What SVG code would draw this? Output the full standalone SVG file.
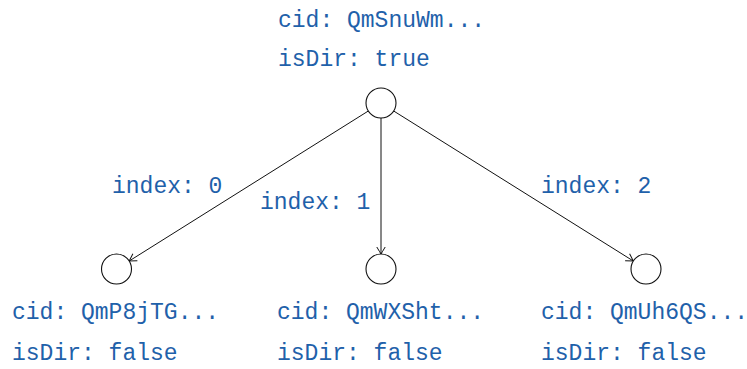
<svg xmlns="http://www.w3.org/2000/svg" width="747" height="369" viewBox="0 0 747 369">
  <style>
    .lbl { font-family: "Liberation Mono", "DejaVu Sans Mono", monospace; font-size: 23px; fill: #1f61aa; }
    .node { fill: #ffffff; stroke: #111111; stroke-width: 1.1; }
    .edge { fill: none; stroke: #111111; stroke-width: 1; marker-end: url(#tip); }
  </style>
  <defs>
    <marker id="tip" viewBox="-8 -5 10 10" refX="0" refY="0" markerWidth="10" markerHeight="10" markerUnits="userSpaceOnUse" orient="auto">
      <path d="M -7,-4.2 Q -2,-1.2 0,0 Q -2,1.2 -7,4.2" fill="none" stroke="#111111" stroke-width="1"/>
    </marker>
  </defs>
  <rect width="747" height="369" fill="#ffffff"/>

  <g id="edges">
    <line class="edge" x1="368.3" y1="111" x2="129.2" y2="261"/>
    <line class="edge" x1="381" y1="118" x2="381" y2="254"/>
    <line class="edge" x1="393.7" y1="111" x2="633.3" y2="261"/>
    <text class="lbl" x="112" y="193">index: 0</text>
    <text class="lbl" x="260" y="209">index: 1</text>
    <text class="lbl" x="541" y="193">index: 2</text>
  </g>

  <g id="root">
    <circle class="node" cx="381" cy="103" r="15"/>
    <text class="lbl" x="278" y="27">cid: QmSnuWm...</text>
    <text class="lbl" x="278" y="66">isDir: true</text>
  </g>

  <g id="child0">
    <circle class="node" cx="116.5" cy="269" r="15"/>
    <text class="lbl" x="12" y="319">cid: QmP8jTG...</text>
    <text class="lbl" x="12" y="360">isDir: false</text>
  </g>

  <g id="child1">
    <circle class="node" cx="381" cy="269" r="15"/>
    <text class="lbl" x="277" y="319">cid: QmWXSht...</text>
    <text class="lbl" x="277" y="360">isDir: false</text>
  </g>

  <g id="child2">
    <circle class="node" cx="646" cy="269" r="15"/>
    <text class="lbl" x="541" y="319">cid: QmUh6QS...</text>
    <text class="lbl" x="541" y="360">isDir: false</text>
  </g>
</svg>
